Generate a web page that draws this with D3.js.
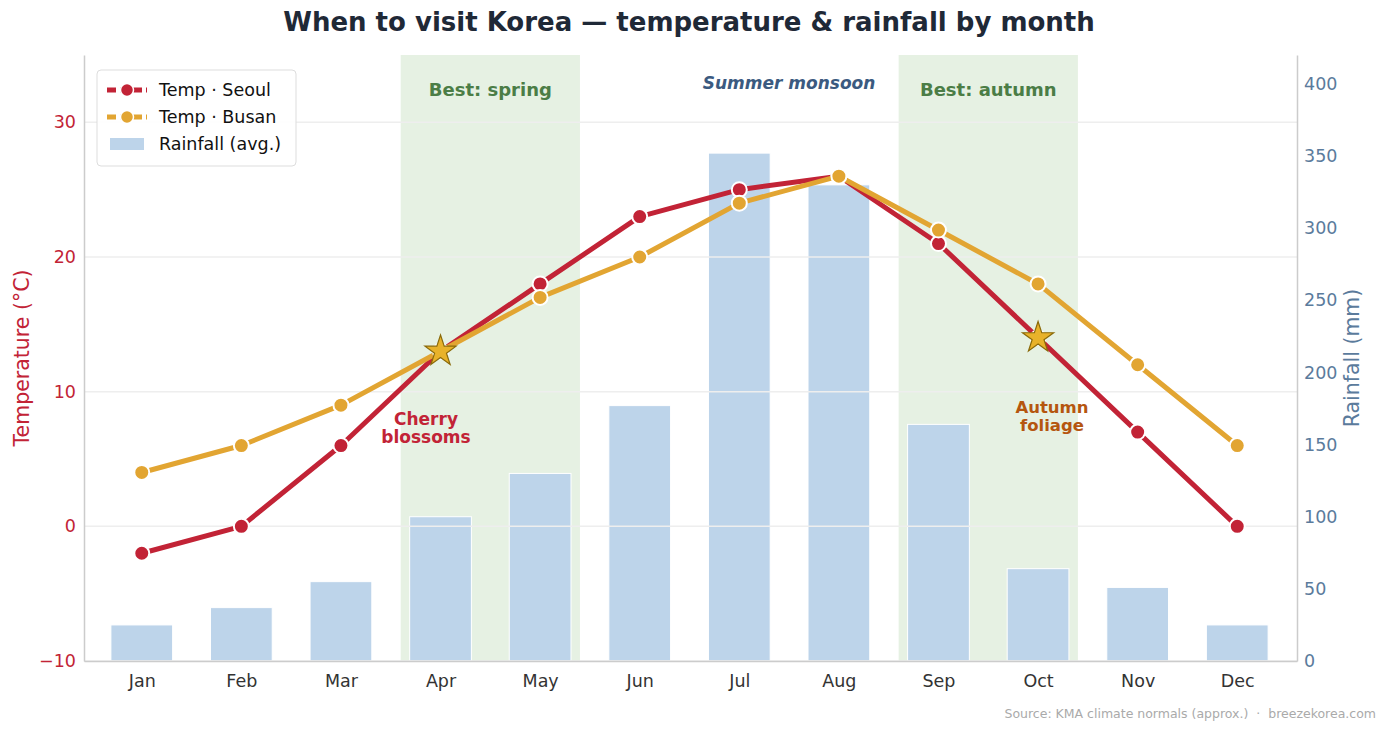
<!DOCTYPE html>
<html lang="en">
<head>
<meta charset="utf-8">
<title>When to visit Korea</title>
<script src="https://cdnjs.cloudflare.com/ajax/libs/d3/7.8.5/d3.min.js"></script>
<style>
  body { margin: 0; background: #fff; font-family: "DejaVu Sans", sans-serif; }
  svg text { font-family: "DejaVu Sans", sans-serif; }
</style>
</head>
<body>
<svg id="canvas" width="1388" height="734"></svg>
<script>
// data
const months = ["Jan","Feb","Mar","Apr","May","Jun","Jul","Aug","Sep","Oct","Nov","Dec"];
const seoulTemp = [-2, 0, 6, 13, 18, 23, 25, 26, 21, 14, 7, 0];
const busanTemp = [4, 6, 9, 13, 17, 20, 24, 26, 22, 18, 12, 6];
const rainfall = [25, 37, 55, 100, 130, 177, 352, 330, 164, 64, 51, 25];
const tempTicks = [-10, 0, 10, 20, 30];
const rainTicks = [0, 50, 100, 150, 200, 250, 300, 350, 400];
const bestSeasons = [
  { from: 3, to: 4, label: "Best: spring" },
  { from: 8, to: 9, label: "Best: autumn" }
];
const highlights = [
  { month: 3, temp: 13 },
  { month: 9, temp: 14 }
];

const svg = d3.select("#canvas");
const plotL = 84, plotR = 1297, plotT = 55, plotB = 661;

const x = d3.scaleLinear().domain([-0.58, 11.6]).range([plotL, plotR]);
const yT = d3.scaleLinear().domain([-10, 35]).range([plotB, plotT]);
const yR = d3.scaleLinear().domain([0, 420]).range([plotB, plotT]);
const step = x(1) - x(0);

const seoulCol = "#c22336", busanCol = "#e2a532", barCol = "#bdd4ea";

// title
svg.append("text").attr("x", 689).attr("y", 31).attr("text-anchor", "middle")
  .style("font-size", "26px").style("font-weight", "bold").attr("fill", "#1f2937")
  .text("When to visit Korea \u2014 temperature & rainfall by month");

// best-season shading
svg.selectAll("rect.season").data(bestSeasons).join("rect")
  .attr("class", "season")
  .attr("x", d => x(d.from - 0.4))
  .attr("width", d => x(d.to + 0.4) - x(d.from - 0.4))
  .attr("y", plotT).attr("height", plotB - plotT)
  .attr("fill", "#e6f1e3");

svg.selectAll("text.season").data(bestSeasons).join("text")
  .attr("class", "season")
  .attr("x", d => x((d.from + d.to) / 2)).attr("y", 96)
  .attr("text-anchor", "middle").style("font-size", "18px").style("font-weight", "bold")
  .attr("fill", "#4b7d46").text(d => d.label);

// rainfall bars
const bw = step * 0.62;
svg.selectAll("rect.bar").data(rainfall).join("rect")
  .attr("class", "bar")
  .attr("x", (d, i) => x(i) - bw / 2).attr("width", bw)
  .attr("y", d => yR(d)).attr("height", d => plotB - yR(d))
  .attr("fill", barCol).attr("stroke", "#fff").attr("stroke-width", 1);

// gridlines
svg.append("g").selectAll("line").data(tempTicks).join("line")
  .attr("x1", plotL).attr("x2", plotR)
  .attr("y1", d => yT(d)).attr("y2", d => yT(d))
  .attr("stroke", "#eeeeee").attr("stroke-width", 1.5);

// axes
const axL = svg.append("g").attr("transform", `translate(${plotL},0)`)
  .call(d3.axisLeft(yT).tickValues(tempTicks).tickSize(0).tickPadding(8)
    .tickFormat(d => d < 0 ? "\u2212" + Math.abs(d) : d));
const axR = svg.append("g").attr("transform", `translate(${plotR},0)`)
  .call(d3.axisRight(yR).tickValues(rainTicks).tickSize(0).tickPadding(7));
const axB = svg.append("g").attr("transform", `translate(0,${plotB})`)
  .call(d3.axisBottom(x).tickValues(d3.range(12)).tickSize(0).tickPadding(14)
    .tickFormat(i => months[i]));
[axL, axR, axB].forEach(a => {
  a.select(".domain").attr("stroke", "#cccccc").attr("stroke-width", 1.5);
  a.selectAll("text").style("font-size", "17.5px").style("font-family", "DejaVu Sans, sans-serif");
});
axL.selectAll("text").attr("fill", seoulCol);
axR.selectAll("text").attr("fill", "#5b7b9c");
axB.selectAll("text").attr("fill", "#333");

svg.append("text").attr("transform", "translate(29,358) rotate(-90)")
  .attr("text-anchor", "middle").style("font-size", "20.5px").attr("fill", seoulCol)
  .text("Temperature (\u00b0C)");
svg.append("text").attr("transform", "translate(1359,358) rotate(-90)")
  .attr("text-anchor", "middle").style("font-size", "20.5px").attr("fill", "#5b7b9c")
  .text("Rainfall (mm)");

// temperature lines
const line = d3.line().x((d, i) => x(i)).y(d => yT(d));
function drawSeries(vals, col) {
  svg.append("path").datum(vals).attr("d", line)
    .attr("fill", "none").attr("stroke", col).attr("stroke-width", 5)
    .attr("stroke-linejoin", "round");
  svg.append("g").selectAll("circle").data(vals).join("circle")
    .attr("cx", (d, i) => x(i)).attr("cy", d => yT(d)).attr("r", 7.5)
    .attr("fill", col).attr("stroke", "#fff").attr("stroke-width", 2);
}
drawSeries(seoulTemp, seoulCol);
drawSeries(busanTemp, busanCol);

// stars
const star = d3.symbol().type(d3.symbolStar).size(300);
svg.selectAll("path.star").data(highlights).join("path")
  .attr("class", "star")
  .attr("d", star)
  .attr("transform", d => `translate(${x(d.month)},${yT(d.temp)})`)
  .attr("fill", "#e8b22a").attr("stroke", "#8a6a0a").attr("stroke-width", 1.2);

// annotations
function note(lines, cx, y0, col, size, style) {
  const t = svg.append("text").attr("text-anchor", "middle")
    .style("font-size", size + "px").style("font-weight", "bold")
    .style("font-style", style || "normal").attr("fill", col);
  lines.forEach((s, k) => t.append("tspan").attr("x", cx).attr("y", y0 + k * 18).text(s));
}
note(["Cherry", "blossoms"], 426, 425, seoulCol, 17);
note(["Autumn", "foliage"], 1052, 413, "#b5560f", 16.5);
note(["Summer monsoon"], 789, 89, "#3b5a80", 17, "italic");

// legend
const lg = svg.append("g").attr("transform", "translate(97,70)");
lg.append("rect").attr("width", 199).attr("height", 96).attr("rx", 4)
  .attr("fill", "#fff").attr("fill-opacity", 0.9).attr("stroke", "#dddddd");
const legendItems = [
  { label: "Temp \u00b7 Seoul", col: seoulCol, kind: "line" },
  { label: "Temp \u00b7 Busan", col: busanCol, kind: "line" },
  { label: "Rainfall (avg.)", col: barCol, kind: "bar" }
];
legendItems.forEach((d, i) => {
  const g = lg.append("g").attr("transform", `translate(0,${20 + i * 27})`);
  if (d.kind === "line") {
    g.append("line").attr("x1", 10).attr("x2", 50).attr("stroke", d.col)
      .attr("stroke-width", 5).attr("stroke-dasharray", "9,4");
    g.append("circle").attr("cx", 30).attr("r", 6.5).attr("fill", d.col)
      .attr("stroke", "#fff").attr("stroke-width", 1.5);
  } else {
    g.append("rect").attr("x", 13).attr("y", -6).attr("width", 34).attr("height", 12)
      .attr("fill", d.col);
  }
  g.append("text").attr("x", 62).attr("y", 6).style("font-size", "17.5px")
    .attr("fill", "#111").text(d.label);
});

// source
svg.append("text").attr("x", 1376).attr("y", 718).attr("text-anchor", "end")
  .style("font-size", "12.5px").style("white-space", "pre").attr("fill", "#aaaaaa")
  .text("Source: KMA climate normals (approx.)  \u00b7  breezekorea.com");
</script>
</body>
</html>
